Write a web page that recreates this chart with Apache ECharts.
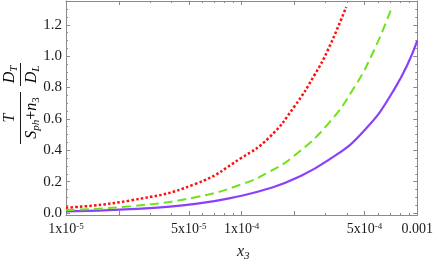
<!DOCTYPE html>
<html>
<head>
<meta charset="utf-8">
<script src="https://cdn.jsdelivr.net/npm/echarts@6/dist/echarts.min.js"></script>
<style>html,body{margin:0;padding:0;background:#fff}#c{width:436px;height:263px}</style>
</head>
<body>
<div id="c"></div>
<script>
// ---- data ----
const redX = [1e-5, 2.33e-5, 5.46e-5, 1e-4, 1.43e-4, 2e-4, 2.6e-4, 3.1e-4, 3.94e-4];
const redY = [0.034, 0.080, 0.185, 0.352, 0.48, 0.680, 0.88, 1.040, 1.314];
const greenX = [1e-5, 2.33e-5, 5.46e-5, 1e-4, 1.43e-4, 2e-4, 3.1e-4, 4.4e-4, 5.7e-4, 7.1e-4];
const greenY = [0.019, 0.043, 0.100, 0.183, 0.262, 0.366, 0.567, 0.805, 1.043, 1.300];
const purpleX = [1e-5, 2.33e-5, 5.46e-5, 1e-4, 1.43e-4, 2e-4, 3.1e-4, 4.8e-4, 7.41e-4, 1e-3];
const purpleY = [0.010, 0.024, 0.058, 0.110, 0.156, 0.218, 0.335, 0.506, 0.790, 1.098];

const xMajorTicks = [1e-5, 2e-5, 5e-5, 1e-4, 2e-4, 5e-4, 1e-3];
const xMinorTicks = [3e-5, 4e-5, 6e-5, 7e-5, 8e-5, 9e-5, 3e-4, 4e-4, 6e-4, 7e-4, 8e-4, 9e-4];
const xLabelValues = [1e-5, 5e-5, 1e-4, 5e-4, 1e-3];
const xLabelTexts = ['1x10{sup|-5}', '5x10{sup|-5}', '1x10{sup|-4}', '5x10{sup|-4}', '0.001'];
const yMajorTicks = [0, 0.2, 0.4, 0.6, 0.8, 1.0, 1.2];
const yMinorTicks = [0.05, 0.1, 0.15, 0.25, 0.3, 0.35, 0.45, 0.5, 0.55, 0.65, 0.7, 0.75, 0.85, 0.9, 0.95, 1.05, 1.1, 1.15, 1.25, 1.3, 1.35];
const yMin = -0.013, yMax = 1.352;
const xMin = 1e-5, xMax = 1e-3;

// ---- styles ----
const FRAME = '#8a8a8a';
const SERIF = '"Liberation Serif", "DejaVu Serif", serif';
const TXT = '#1a1a1a';

function pair(arrX, arrY) { return arrX.map((x, i) => [x, arrY[i]]); }
const lg = v => Math.log10(v);

function xTickAxis(pos, vals, len, withLabel, showLine) {
  return {
    type: 'value', position: pos, min: lg(xMin), max: lg(xMax), gridIndex: 0,
    axisLine: { show: showLine, onZero: false, lineStyle: { color: FRAME, width: 1 } },
    axisTick: { show: true, inside: true, length: len, customValues: vals.map(lg), lineStyle: { color: FRAME } },
    axisLabel: withLabel ? {
      show: true, customValues: xLabelValues.map(lg), margin: 7,
      fontFamily: SERIF, fontSize: 14, color: TXT,
      formatter: function (v) {
        let best = 0;
        for (let i = 1; i < xLabelValues.length; i++) {
          if (Math.abs(lg(xLabelValues[i]) - v) < Math.abs(lg(xLabelValues[best]) - v)) best = i;
        }
        return xLabelTexts[best];
      },
      rich: { sup: { fontSize: 9, fontFamily: SERIF, color: TXT, verticalAlign: 'top', lineHeight: 10, padding: [0, 0, 4, 0] } }
    } : { show: false },
    splitLine: { show: false }
  };
}
function yTickAxis(pos, vals, len, withLabel, showLine) {
  return {
    type: 'value', position: pos, min: yMin, max: yMax, gridIndex: 0,
    axisLine: { show: showLine, onZero: false, lineStyle: { color: FRAME, width: 1 } },
    axisTick: { show: true, inside: true, length: len, customValues: vals, lineStyle: { color: FRAME } },
    axisLabel: withLabel ? {
      show: true, customValues: yMajorTicks, margin: 4,
      fontFamily: SERIF, fontSize: 15, color: TXT,
      formatter: v => v.toFixed(1)
    } : { show: false },
    splitLine: { show: false }
  };
}

const chart = echarts.init(document.getElementById('c'), null, { renderer: 'canvas' });
const ITAL = { fontFamily: SERIF, fontStyle: 'italic', fontSize: 16, fill: TXT };
const richY = {
  i: { fontFamily: SERIF, fontStyle: 'italic', fontSize: 16, color: TXT, lineHeight: 20, verticalAlign: 'middle' },
  r: { fontFamily: SERIF, fontSize: 16, color: TXT, lineHeight: 20, verticalAlign: 'middle' },
  s: { fontFamily: SERIF, fontStyle: 'italic', fontSize: 11, color: TXT, lineHeight: 11, verticalAlign: 'bottom' },
  sr: { fontFamily: SERIF, fontSize: 11, color: TXT, lineHeight: 11, verticalAlign: 'bottom' }
};

chart.setOption({
  animation: false,
  backgroundColor: '#fff',
  grid: { left: 66, right: 17, top: 1, bottom: 48, containLabel: false },
  xAxis: [
    { type: 'log', min: xMin, max: xMax, position: 'bottom',
      axisLine: { show: true, onZero: false, lineStyle: { color: FRAME } },
      axisTick: { show: false }, axisLabel: { show: false }, splitLine: { show: false }, minorTick: { show: false } },
    xTickAxis('bottom', xMajorTicks, 4, true, false),
    xTickAxis('bottom', xMinorTicks, 2, false, false),
    xTickAxis('top', xMajorTicks, 4, false, true),
    xTickAxis('top', xMinorTicks, 2, false, false)
  ],
  yAxis: [
    yTickAxis('left', yMajorTicks, 4, true, true),
    yTickAxis('left', yMinorTicks, 2, false, false),
    yTickAxis('right', yMajorTicks, 4, false, true),
    yTickAxis('right', yMinorTicks, 2, false, false)
  ],
  series: [
    { type: 'line', xAxisIndex: 0, yAxisIndex: 0, data: pair(purpleX, purpleY), smooth: 0.5, showSymbol: false,
      lineStyle: { color: '#8a3ffc', width: 2.2 } },
    { type: 'line', xAxisIndex: 0, yAxisIndex: 0, data: pair(greenX, greenY), smooth: 0.5, showSymbol: false,
      lineStyle: { color: '#6fe31a', width: 2, type: [9, 5] } },
    { type: 'line', xAxisIndex: 0, yAxisIndex: 0, data: pair(redX, redY), smooth: 0.5, showSymbol: false,
      lineStyle: { color: '#ff1010', width: 2.5, type: [2.5, 2.2] } }
  ],
  graphic: [
    { type: 'text', left: 237, top: 244,
      style: { text: '{i|x}{s|3}', rich: richY, fill: TXT } },
    { type: 'group', x: 20.5, y: 104, rotation: Math.PI / 2,
      children: [
        { type: 'line', shape: { x1: -40, y1: 0, x2: 12, y2: 0 }, style: { stroke: TXT, lineWidth: 1 } },
        { type: 'text', x: -14, y: -11, style: Object.assign({ text: 'T', align: 'center', verticalAlign: 'middle' }, ITAL) },
        { type: 'text', x: -14, y: 11, style: { text: '{i|S}{s|ph}{r|+}{i|n}{sr|3}', rich: richY, align: 'center', verticalAlign: 'middle' } },
        { type: 'line', shape: { x1: 18, y1: 0, x2: 41, y2: 0 }, style: { stroke: TXT, lineWidth: 1 } },
        { type: 'text', x: 29.5, y: -11, style: { text: '{i|D}{s|T}', rich: richY, align: 'center', verticalAlign: 'middle' } },
        { type: 'text', x: 29.5, y: 11, style: { text: '{i|D}{s|L}', rich: richY, align: 'center', verticalAlign: 'middle' } }
      ] }
  ]
});
</script>
</body>
</html>
